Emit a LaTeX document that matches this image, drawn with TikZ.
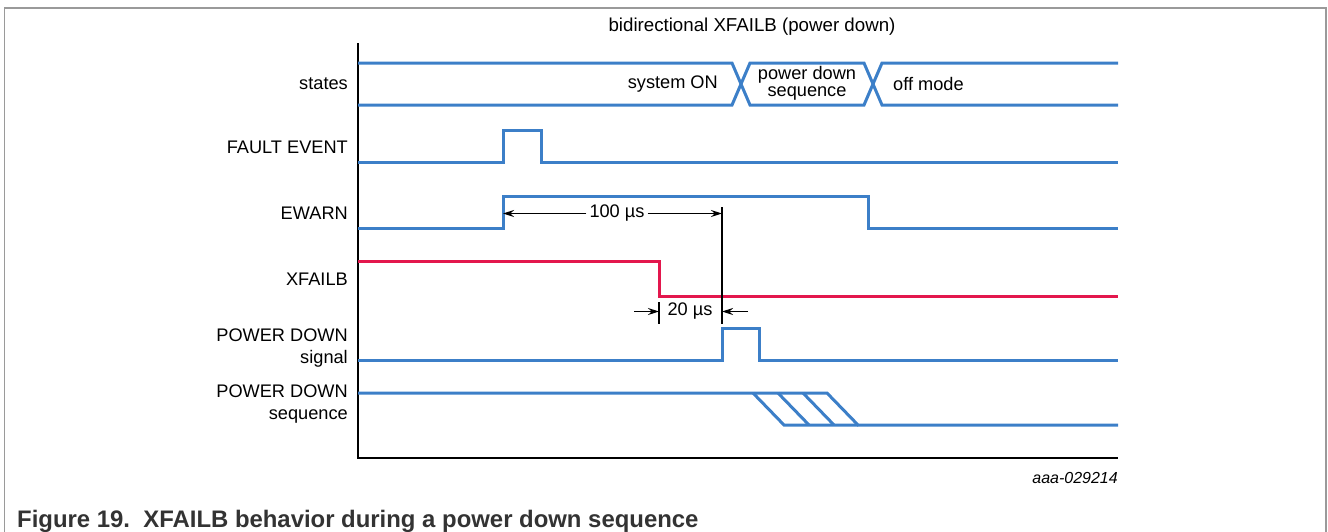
\documentclass[tikz,border=0pt]{standalone}
\usepackage{fontspec}
\setmainfont{Liberation Sans}
\usetikzlibrary{arrows.meta}
\definecolor{sigblue}{HTML}{3C7FC8}
\definecolor{sigred}{HTML}{E3174D}
\definecolor{capgray}{HTML}{333333}
\definecolor{framegray}{HTML}{9A9A9A}
\tikzset{
  sig/.style={draw=sigblue,line width=3pt,line join=miter},
  redsig/.style={draw=sigred,line width=3pt,line join=miter},
  lbl/.style={font=\fontsize{18.2}{20}\selectfont,inner sep=0pt,anchor=east,align=right},
  txt/.style={font=\fontsize{18.2}{20}\selectfont,inner sep=0pt},
  dim/.style={draw=black,line width=1.2pt},
  dimarr/.style={dim,-{Stealth[length=11pt,width=7pt]}},
}
\begin{document}
\begin{tikzpicture}[x=1pt,y=-1pt]
\useasboundingbox (0,0) rectangle (1328,531);
% frame
\draw[framegray,line width=1.5pt] (4.5,540) -- (4.5,8) -- (1326,8) -- (1326,540);
% title
\node[txt,font=\fontsize{18.7}{20}\selectfont] (title) at (752,27) {bidirectional XFAILB (power down)};
% axes
\draw[black,line width=1.8pt] (358,43) -- (358,458) -- (1118,458);
% labels
\node[lbl] (lstates) at (348,84) {states};
\node[lbl] (lfault) at (348,147) {FAULT EVENT};
\node[lbl] (lewarn) at (348,213) {EWARN};
\node[lbl] (lxfail) at (348,279) {XFAILB};
\node[lbl] (lpds) at (348,348) {POWER DOWN\\[2pt]signal};
\node[lbl] (lpdq) at (348,404) {POWER DOWN\\[2pt]sequence};
% states bus
\draw[sig] (358,63) -- (732,63) -- (750,105) -- (864,105) -- (882,63) -- (1118,63);
\draw[sig] (358,105) -- (732,105) -- (750,63) -- (864,63) -- (882,105) -- (1118,105);
\node[txt,anchor=east] (sON) at (718,84) {system ON};
\node[txt,align=center] (spd) at (807,83) {power down\\[-3pt]sequence};
\node[txt,anchor=west] (soff) at (893,84) {off mode};
% fault event
\draw[sig] (358,162) -- (503,162) -- (503,130) -- (541,130) -- (541,162) -- (1118,162);
% EWARN
\draw[sig] (358,228) -- (503,228) -- (503,196.5) -- (868,196.5) -- (868,228) -- (1118,228);
% XFAILB
\draw[redsig] (358,261) -- (659,261) -- (659,296) -- (1118,296);
% power down signal
\draw[sig] (358,360) -- (722,360) -- (722,328) -- (759,328) -- (759,360) -- (1118,360);
% power down sequence
\draw[sig] (358,393) -- (827,393) -- (858,425) -- (1118,425);
\draw[sig] (753,393) -- (784,425) -- (858,425);
\draw[sig] (778,393) -- (809,425);
\draw[sig] (803,393) -- (834,425);
% 100 us dimension
\coordinate (e1) at (503,213.5);
\coordinate (e2) at (722,213.5);
\draw[dim] (722,207) -- (722,324);
\node[txt,fill=white,inner xsep=3pt,inner ysep=2pt] (d100) at (617,213.5) {100 µs};
\draw[dimarr] (d100.west) -- (e1);
\draw[dimarr] (d100.east) -- (e2);
% 20 us dimension
\draw[dim] (659,302) -- (659,324);
\coordinate (f1) at (659,311.5);
\coordinate (f2) at (722,311.5);
\coordinate (f0) at (634,311.5);
\coordinate (f3) at (748,311.5);
\draw[dimarr] (f0) -- (f1);
\draw[dimarr] (f3) -- (f2);
\node[txt] (d20) at (690,311.5) {20 µs};
% id
\node[txt,anchor=east,font=\fontsize{16}{18}\selectfont\itshape] (id) at (1118,478) {aaa-029214};
% caption
\node[txt,anchor=base west,text=capgray,font=\fontsize{23.9}{26}\selectfont\bfseries] (cap) at (17,527) {Figure 19.\ \ XFAILB behavior during a power down sequence};
\end{tikzpicture}
\end{document}
